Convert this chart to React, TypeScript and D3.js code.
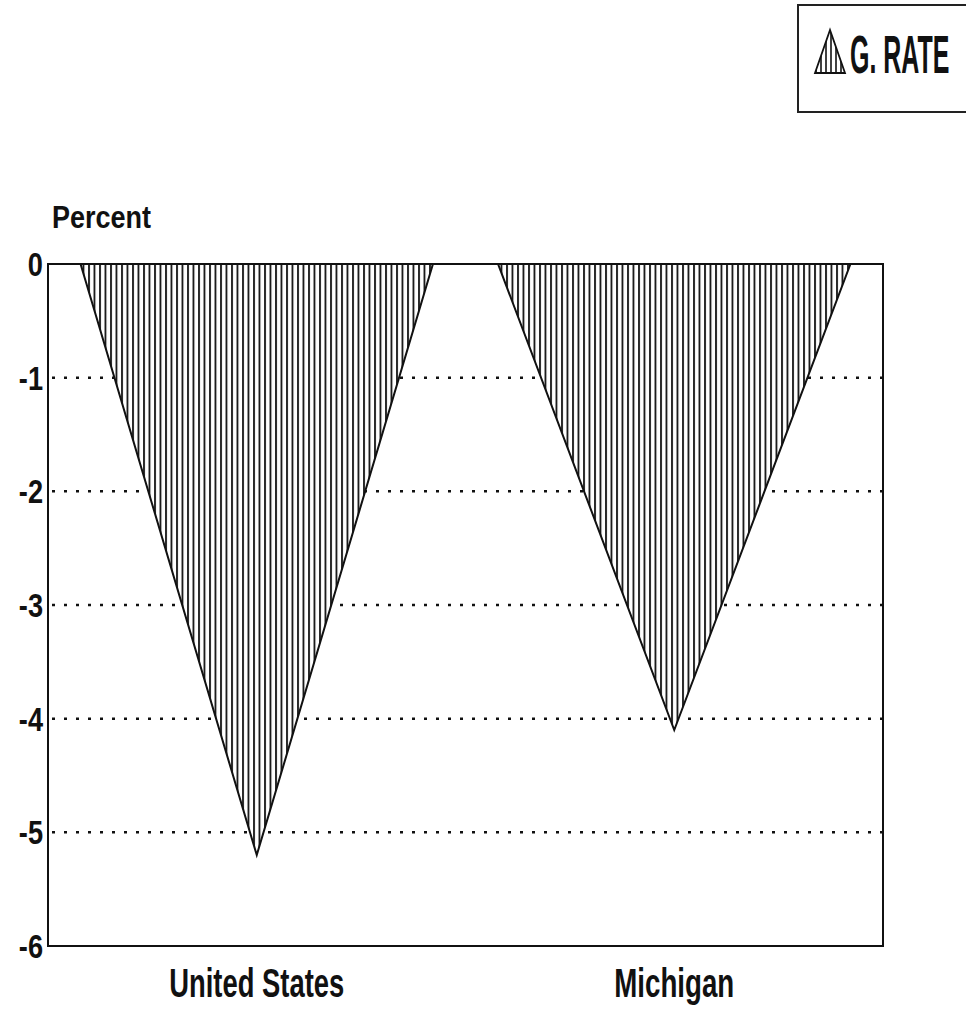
import * as d3 from 'd3';
import * as React from 'react';

const categories = ['United States', 'Michigan'];
const growthRate = [-5.2, -4.1];
const yTicks = [0, -1, -2, -3, -4, -5, -6];
const legendLabel = 'G. RATE';
const yTitle = 'Percent';

const W = 966;
const H = 1012;
const FONT = '"Liberation Sans", Arial, Helvetica, sans-serif';

export default function App() {
  const left = 48;
  const right = 883;
  const top = 264;
  const bottom = 946;

  const x = d3.scalePoint<string>().domain(categories).range([left, right]).padding(0.5);
  const y = d3.scaleLinear().domain([0, -6]).range([top, bottom]);
  const half = x.step() * 0.422;

  const tri = (c: string, v: number) => {
    const cx = x(c) as number;
    return d3.line()([
      [cx - half, y(0)],
      [cx + half, y(0)],
      [cx, y(v)],
    ]) + 'Z';
  };

  return (
    <svg width={W} height={H} style={{ position: 'absolute', left: 0, top: 0, background: '#fff' }}>
      <defs>
        <pattern id="vhatch" patternUnits="userSpaceOnUse" width={5.5} height={10}>
          <rect width={5.5} height={10} fill="#fff" />
          <line x1={1} y1={0} x2={1} y2={10} stroke="#111" strokeWidth={1.8} />
        </pattern>
        <pattern id="vhatchSmall" patternUnits="userSpaceOnUse" width={5} height={10}>
          <rect width={5} height={10} fill="#fff" />
          <line x1={1} y1={0} x2={1} y2={10} stroke="#111" strokeWidth={1.6} />
        </pattern>
      </defs>

      {/* legend (box runs off the right edge, as in the scan) */}
      <rect x={798} y={5} width={180} height={107} fill="none" stroke="#222" strokeWidth={2} />
      <path d="M830,30 L815,73 L845,73 Z" fill="url(#vhatchSmall)" stroke="#111" strokeWidth={1.8} />
      <text transform="translate(850,73) scale(0.96,2.05)" fontFamily={FONT} fontWeight="bold"
        fontSize={26} fill="#111">{legendLabel}</text>

      {/* y title */}
      <text x={52} y={228} fontFamily={FONT} fontWeight="bold" fontSize={32}
        textLength={99} lengthAdjust="spacingAndGlyphs" fill="#111">{yTitle}</text>

      {/* grid lines */}
      {yTicks.filter(t => t !== 0 && t !== -6).map(t => (
        <line key={t} x1={left + 4} x2={right} y1={y(t)} y2={y(t)}
          stroke="#111" strokeWidth={2.5} strokeDasharray="3,9" />
      ))}

      {/* triangles */}
      {categories.map((c, i) => (
        <path key={c} d={tri(c, growthRate[i])} fill="url(#vhatch)" stroke="#111" strokeWidth={2} strokeLinejoin="miter" />
      ))}

      {/* frame */}
      <rect x={left} y={top} width={right - left} height={bottom - top} fill="none" stroke="#111" strokeWidth={2} />

      {/* y tick labels */}
      {yTicks.map(t => (
        <text key={t} x={43} y={y(t) + 12} textAnchor="end" fontFamily={FONT} fontWeight="bold"
          fontSize={34} fill="#111" transform={`translate(43,0) scale(0.8,1) translate(-43,0)`}>{t}</text>
      ))}

      {/* x labels */}
      {categories.map(c => {
        const w = c === 'United States' ? 175 : 120;
        return (
          <text key={c} x={(x(c) as number) - w / 2} y={997} fontFamily={FONT} fontWeight="bold"
            fontSize={40} textLength={w} lengthAdjust="spacingAndGlyphs" fill="#111">{c}</text>
        );
      })}
    </svg>
  );
}
